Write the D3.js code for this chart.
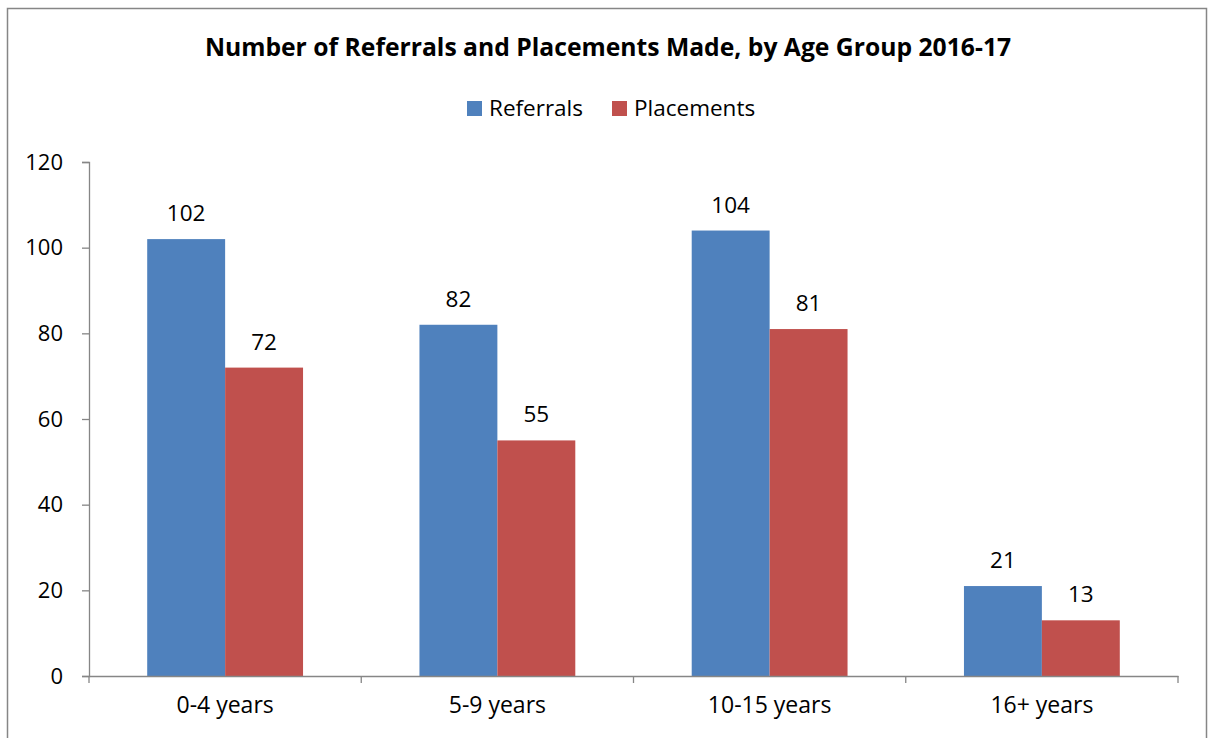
<!DOCTYPE html>
<html>
<head>
<meta charset="utf-8">
<script src="https://cdn.jsdelivr.net/npm/d3@7"></script>
<style>
  body { margin: 0; background: #fff; }
  svg text { font-family: "Open Sans", sans-serif; fill: #000; }
</style>
</head>
<body>
<svg id="chart"></svg>
<script>
'use strict'

// chart data
const categories = ['0-4 years', '5-9 years', '10-15 years', '16+ years']
const seriesNames = ['Referrals', 'Placements']
const referrals = [102, 82, 104, 21]
const placements = [72, 55, 81, 13]
const yTicks = [0, 20, 40, 60, 80, 100, 120]

const colors = {Referrals: '#4f81bd', Placements: '#c0504d'}
const W = 1209, H = 738
const margins = {top: 162, right: 31, bottom: 62, left: 89}
const chartWidth = W - margins.left - margins.right
const chartHeight = H - margins.top - margins.bottom

const svg = d3.select('#chart').attr('width', W).attr('height', H)

// outer frame
svg.append('rect')
  .attr('x', 7.5).attr('y', 8.5)
  .attr('width', 1199).attr('height', 740)
  .attr('fill', 'none').attr('stroke', '#868686').attr('stroke-width', 1.5)

// title
svg.append('text')
  .attr('x', 608).attr('y', 56)
  .attr('text-anchor', 'middle')
  .style('font-size', '24.7px').style('font-weight', 'bold')
  .text('Number of Referrals and Placements Made, by Age Group 2016-17')

// legend
const legendX = [467, 612]
const legend = svg.selectAll('.legend')
  .data(seriesNames)
  .enter().append('g')
  .attr('transform', (d, i) => 'translate(' + legendX[i] + ',101)')
legend.append('rect')
  .attr('width', 15).attr('height', 15)
  .attr('fill', (d) => colors[d])
legend.append('text')
  .attr('x', 22).attr('y', 15)
  .style('font-size', '22.5px')
  .text((d) => d)

const g = svg.append('g').attr('transform', 'translate(' + margins.left + ',' + margins.top + ')')

// scales
const x0 = d3.scaleBand().domain(categories).range([0, chartWidth]).paddingInner(0).paddingOuter(0)
const x1 = d3.scaleBand().domain(seriesNames).range([0, x0.bandwidth()]).paddingInner(0).paddingOuter(0.747)
const y = d3.scaleLinear().domain([0, 120]).range([chartHeight, 0])

// y axis
const yAxis = g.append('g')
  .call(d3.axisLeft(y).tickValues(yTicks).tickSize(7).tickPadding(19))
yAxis.select('.domain').attr('stroke', '#868686').attr('stroke-width', 1.3)
yAxis.selectAll('.tick line').attr('stroke', '#868686').attr('stroke-width', 1.3)
yAxis.selectAll('.tick text').style('font-size', '22px').attr('fill', '#000')

// bars
const rows = categories.map((c, i) => ({cat: c, values: [
  {name: 'Referrals', value: referrals[i]},
  {name: 'Placements', value: placements[i]}
]}))

const group = g.selectAll('.group')
  .data(rows)
  .enter().append('g')
  .attr('transform', (d) => 'translate(' + x0(d.cat) + ',0)')

group.selectAll('rect')
  .data((d) => d.values)
  .enter().append('rect')
  .attr('x', (d) => x1(d.name))
  .attr('y', (d) => y(d.value))
  .attr('width', x1.bandwidth())
  .attr('height', (d) => chartHeight - y(d.value))
  .attr('fill', (d) => colors[d.name])

// data labels
group.selectAll('.label')
  .data((d) => d.values)
  .enter().append('text')
  .attr('x', (d) => x1(d.name) + x1.bandwidth() / 2)
  .attr('y', (d) => y(d.value) - 18)
  .attr('text-anchor', 'middle')
  .style('font-size', '22.5px')
  .text((d) => d.value)

// x axis
const xAxis = g.append('g')
  .attr('transform', 'translate(0,' + chartHeight + ')')
  .call(d3.axisBottom(x0).tickSize(0).tickPadding(21))
xAxis.select('.domain').attr('stroke', '#868686').attr('stroke-width', 1.3)
xAxis.selectAll('.tick text').style('font-size', '23px').attr('fill', '#000')
// tick marks between categories
const bounds = [0].concat(categories.map((c) => x0(c) + x0.bandwidth()))
xAxis.selectAll('.sep')
  .data(bounds)
  .enter().append('line')
  .attr('x1', (d) => d).attr('x2', (d) => d)
  .attr('y1', 0).attr('y2', 7)
  .attr('stroke', '#868686').attr('stroke-width', 1.3)
</script>
</body>
</html>
